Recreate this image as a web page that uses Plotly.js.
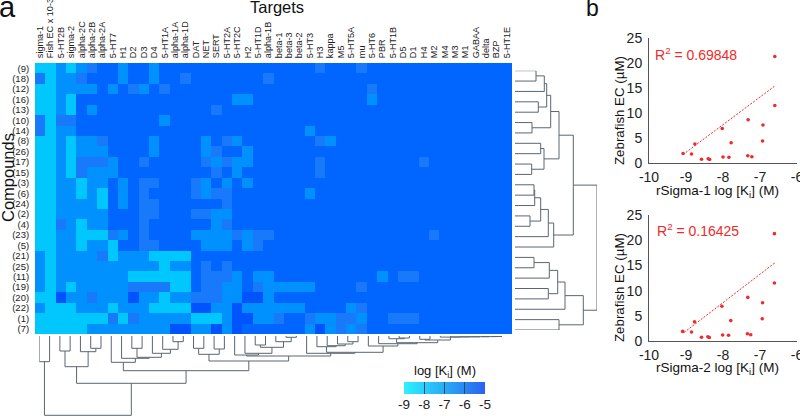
<!DOCTYPE html>
<html><head><meta charset="utf-8">
<script src="https://cdn.plot.ly/plotly-3.0.1.min.js"></script>
<style>html,body{margin:0;padding:0;background:#fff}#c{width:800px;height:416px}</style></head>
<body><div id="c"></div>
<script>
const targets = ["sigma-1","Fish EC x 10-3","5-HT2B","sigma-2","alpha-2C","alpha-2B","alpha-2A","5-HT7","H1","D2","D3","D4","5-HT1A","alpha-1A","alpha-1D","DAT","NET","SERT","5-HT2A","5-HT2C","H2","5-HT1D","alpha-1B","beta-1","beta-3","beta-2","5-HT3","H3","kappa","M5","5-HT5A","mu","5-HT6","PBR","5-HT1B","D5","D1","H4","M2","M4","M3","M1","GABAA","delta","BZP","5-HT1E"];
const compounds = ["(9)","(18)","(12)","(16)","(13)","(10)","(14)","(8)","(26)","(17)","(15)","(3)","(6)","(24)","(2)","(4)","(23)","(5)","(21)","(25)","(11)","(19)","(20)","(22)","(1)","(7)"];
const kiMatrix = [
[-9,-9,-7,-9,-7,-6,-5,-5,-7,-5, -5,-7,-5,-5,-5,-5,-5,-5,-5,-5, -5,-5,-5,-5,-5,-5,-5,-6,-5,-5, -5,-6,-5,-5,-5,-5,-5,-5,-5,-5, -5,-5,-5,-5,-5,-5],
[-6,-9,-7,-7,-6,-5,-5,-5,-7,-5, -5,-7,-5,-5,-6,-5,-5,-5,-5,-5, -5,-5,-6,-5,-5,-5,-5,-5,-5,-5, -5,-5,-5,-5,-5,-5,-5,-5,-5,-5, -5,-5,-5,-5,-5,-5],
[-9,-9,-7,-7,-7,-7,-5,-7,-5,-6, -7,-5,-6,-5,-5,-5,-5,-5,-5,-5, -5,-5,-5,-5,-5,-5,-5,-5,-5,-5, -5,-5,-6,-5,-5,-5,-5,-5,-5,-5, -5,-5,-5,-5,-5,-5],
[-9,-9,-7,-9,-5,-5,-5,-5,-5,-5, -5,-5,-5,-5,-5,-5,-5,-5,-5,-7, -7,-5,-5,-5,-5,-5,-5,-5,-5,-5, -5,-5,-7,-5,-5,-5,-5,-5,-5,-5, -5,-5,-5,-5,-5,-5],
[-9,-9,-7,-9,-5,-7,-5,-5,-5,-5, -5,-5,-5,-5,-5,-5,-5,-6,-5,-5, -5,-5,-5,-5,-5,-5,-5,-5,-5,-5, -5,-5,-5,-5,-5,-5,-5,-5,-5,-5, -5,-5,-5,-5,-5,-5],
[-6,-9,-6,-6,-5,-5,-5,-5,-5,-5, -5,-5,-7,-5,-5,-5,-5,-5,-5,-5, -5,-5,-5,-5,-5,-5,-5,-5,-5,-5, -5,-5,-5,-5,-5,-5,-5,-5,-5,-5, -5,-5,-5,-5,-5,-5],
[-6,-9,-7,-7,-5,-5,-5,-5,-5,-5, -5,-5,-5,-5,-5,-5,-5,-5,-5,-5, -5,-5,-5,-5,-5,-5,-7,-5,-5,-5, -5,-5,-5,-5,-5,-5,-5,-5,-5,-5, -5,-5,-5,-5,-5,-5],
[-9,-9,-7,-9,-7,-7,-6,-5,-5,-5, -5,-7,-5,-5,-5,-5,-7,-5,-6,-7, -5,-5,-5,-5,-5,-5,-5,-6,-7,-5, -5,-5,-5,-5,-5,-5,-5,-5,-5,-5, -5,-5,-5,-5,-5,-5],
[-9,-9,-7,-9,-7,-7,-7,-5,-5,-5, -5,-7,-5,-5,-5,-5,-7,-6,-5,-5, -7,-5,-5,-5,-5,-5,-5,-5,-5,-5, -5,-5,-5,-5,-5,-5,-5,-5,-5,-5, -5,-5,-5,-5,-5,-5],
[-9,-9,-7,-9,-6,-6,-6,-7,-5,-5, -6,-5,-5,-5,-5,-5,-6,-7,-6,-7, -7,-5,-5,-5,-5,-5,-5,-6,-5,-5, -5,-5,-5,-5,-5,-5,-5,-6,-5,-5, -5,-5,-5,-5,-5,-5],
[-9,-9,-7,-9,-6,-7,-7,-7,-5,-5, -5,-5,-5,-5,-5,-5,-5,-6,-5,-7, -5,-5,-5,-5,-5,-5,-5,-6,-5,-5, -5,-5,-5,-5,-5,-5,-5,-5,-5,-5, -5,-5,-5,-5,-5,-5],
[-9,-9,-7,-7,-9,-7,-7,-5,-7,-5, -6,-6,-5,-5,-5,-6,-7,-5,-7,-5, -7,-5,-5,-5,-5,-5,-5,-5,-5,-5, -5,-5,-5,-5,-5,-5,-5,-5,-5,-5, -5,-5,-5,-5,-5,-5],
[-9,-9,-7,-7,-9,-7,-9,-5,-7,-5, -6,-5,-5,-5,-5,-6,-7,-6,-6,-5, -5,-5,-5,-5,-5,-5,-7,-5,-5,-5, -5,-5,-5,-5,-5,-5,-5,-5,-5,-5, -5,-5,-5,-5,-5,-5],
[-9,-9,-7,-7,-7,-7,-9,-5,-7,-5, -6,-6,-5,-5,-5,-5,-5,-5,-6,-5, -5,-5,-5,-5,-5,-5,-5,-5,-5,-5, -5,-5,-5,-5,-5,-5,-5,-5,-5,-5, -5,-5,-5,-5,-5,-5],
[-9,-9,-7,-7,-7,-7,-7,-5,-5,-5, -6,-6,-5,-5,-5,-6,-6,-7,-7,-5, -5,-5,-5,-5,-5,-5,-5,-5,-5,-5, -5,-5,-5,-5,-5,-5,-5,-5,-5,-5, -5,-5,-5,-5,-5,-5],
[-9,-9,-6,-7,-9,-7,-7,-5,-5,-5, -6,-5,-5,-5,-5,-5,-5,-7,-6,-5, -5,-5,-5,-5,-5,-5,-5,-5,-5,-5, -5,-5,-5,-5,-5,-5,-5,-5,-5,-5, -5,-5,-5,-5,-5,-5],
[-9,-9,-7,-7,-9,-9,-9,-6,-7,-5, -6,-5,-5,-5,-5,-7,-7,-7,-7,-6, -7,-6,-6,-5,-5,-5,-5,-5,-5,-5, -5,-5,-5,-5,-5,-5,-5,-5,-6,-5, -5,-5,-5,-5,-5,-5],
[-9,-9,-7,-7,-9,-7,-7,-9,-5,-5, -6,-6,-5,-5,-5,-5,-7,-7,-7,-5, -7,-6,-5,-5,-5,-5,-5,-5,-5,-5, -5,-5,-5,-5,-5,-5,-5,-5,-5,-5, -5,-5,-5,-5,-5,-5],
[-7,-9,-7,-7,-7,-7,-6,-9,-7,-7, -7,-9,-9,-9,-9,-5,-5,-5,-5,-5, -5,-5,-5,-5,-5,-5,-5,-5,-5,-5, -5,-5,-5,-5,-5,-5,-5,-5,-5,-5, -5,-5,-5,-5,-5,-5],
[-7,-9,-7,-7,-7,-7,-7,-7,-7,-7, -7,-7,-9,-7,-7,-5,-6,-5,-6,-5, -5,-5,-5,-5,-5,-5,-5,-5,-5,-5, -5,-5,-5,-5,-5,-5,-5,-5,-5,-5, -5,-5,-5,-5,-5,-5],
[-7,-9,-7,-7,-7,-7,-7,-7,-7,-9, -9,-9,-9,-9,-9,-5,-6,-6,-6,-7, -5,-7,-7,-5,-5,-5,-5,-5,-5,-5, -5,-5,-5,-7,-5,-6,-6,-5,-5,-5, -5,-5,-5,-5,-5,-5],
[-7,-9,-7,-9,-7,-7,-7,-7,-7,-6, -6,-6,-6,-9,-9,-5,-6,-6,-7,-7, -5,-6,-7,-7,-7,-7,-7,-5,-5,-5, -5,-6,-5,-5,-5,-5,-5,-5,-5,-5, -5,-5,-5,-5,-5,-5],
[-9,-9,-4,-7,-7,-6,-7,-7,-7,-4, -7,-7,-9,-7,-7,-6,-6,-6,-7,-7, -4,-4,-7,-5,-5,-5,-5,-5,-5,-5, -5,-5,-5,-5,-5,-5,-5,-5,-5,-5, -5,-5,-5,-5,-5,-5],
[-7,-9,-9,-9,-7,-7,-7,-9,-7,-7, -7,-9,-9,-9,-9,-4,-4,-7,-7,-4, -7,-7,-7,-7,-7,-7,-5,-5,-5,-5, -7,-6,-5,-5,-5,-5,-5,-5,-5,-5, -5,-5,-5,-5,-5,-5],
[-9,-9,-9,-9,-9,-9,-9,-6,-9,-6, -7,-7,-7,-7,-7,-9,-9,-9,-7,-4, -4,-7,-7,-6,-5,-5,-6,-7,-7,-6, -6,-7,-5,-5,-6,-6,-6,-5,-5,-5, -5,-5,-5,-5,-5,-5],
[-9,-9,-9,-9,-9,-7,-7,-7,-7,-7, -7,-7,-7,-4,-4,-7,-7,-4,-7,-4, -5,-5,-5,-5,-5,-5,-7,-4,-7,-6, -7,-6,-5,-5,-5,-5,-5,-5,-5,-5, -5,-5,-5,-5,-5,-5]
];
// dendrogram merges: [child, child, height]; child < 100 is a leaf, 100+k is merge k
const rowMerges = [
[0,1,21],[100,2,29.3],[3,4,23.3],[101,102,31.7],[5,6,17],[103,104,35.7],
[7,8,25.7],[9,10,16.7],[106,107,29],[105,108,44],
[11,12,19],[110,13,19.7],[14,15,15],[111,112,25.7],[113,16,33.3],[114,17,38.7],[109,115,58.3],
[18,19,19],[117,20,34.3],[21,22,33.3],[118,119,42.7],[120,23,50],[24,25,44],[121,122,68.3],[116,123,82]
];
const colMerges = [
[0,1,25.7],[2,3,15],[5,6,12.3],[4,102,15.7],[101,103,30.7],
[9,10,12.3],[13,14,5.7],[12,106,13.3],[11,107,17.3],[105,108,21.3],[8,109,22.3],[7,110,26.3],
[15,16,12.3],[17,18,13],[112,113,18.3],
[21,22,9],[24,25,1.3],[23,116,5.7],[115,117,11.3],[20,118,17.3],[19,119,19],
[44,45,0.5],[43,121,0.6],[42,122,0.7],[41,123,0.8],[40,124,0.9],[39,125,1.1],[38,37,3.3],[127,126,4],
[35,36,2],[34,129,2.7],[130,128,6.7],[33,131,7.7],[32,132,10],
[30,31,5.7],[29,134,8],[28,135,9.7],[27,136,10.7],[137,133,16.3],[26,138,17.3],[120,139,20],[114,140,25],
[111,141,34.7],[104,142,47.3],[100,143,79.3]
];
const logTicks = [-9,-8,-7,-6,-5];
const logTickText = ["-9","-8","-7","-6","-5"];
const scatterXTicks = [-10,-9,-8,-7,-6];
const scatterXText = ["-10","-9","-8","-7","-6"];
const scatterYTicks = [0,5,10,15,20,25];
const sigma1X = [-6.6,-6.6,-7.32,-6.92,-6.93,-8.02,-7.78,-8.76,-9.08,-8.85,-8.58,-8.4,-8.36,-8.0,-7.84,-7.33,-7.22];
const sigma2X = [-6.61,-6.61,-7.33,-6.93,-6.94,-8.03,-7.79,-8.77,-9.09,-8.85,-8.58,-8.41,-8.37,-8.01,-7.85,-7.34,-7.25];
const ecY = [21.3,11.5,8.65,7.6,4.4,6.9,4.05,3.8,1.9,1.8,0.75,0.85,0.7,1.2,1.15,1.45,1.25];
const fit1X = [-9.08,-6.6], fit1Y = [1.7,15.4];
const fit2X = [-9.05,-6.6], fit2Y = [1.7,15.5];

const W = 800, H = 416;
const dx = (a,b)=>[a/W,b/W], dy = (top,bot)=>[1-bot/H,1-top/H];

function dendro(merges, leafPos, horizontalLeaves){
  const nodes = []; const xs = [], ys = [];
  const get = c => c<100 ? {p:leafPos(c),h:0} : nodes[c-100];
  merges.forEach(m=>{
    const a=get(m[0]), b=get(m[1]), p=(a.p+b.p)/2;
    nodes.push({p,h:m[2]});
    const pos=[a.p,a.p,b.p,b.p,null], hh=[a.h,m[2],m[2],b.h,null];
    if(horizontalLeaves){xs.push(...hh);ys.push(...pos);} else {xs.push(...pos);ys.push(...hh);}
  });
  return {x:xs,y:ys};
}
const identity = i=>i;
const colD = dendro(colMerges, identity, false);
const rowD = dendro(rowMerges, identity, true);
const dendLine = {color:'#5b6670',width:1};

const red = '#f02a2a';
const traces = [
 {type:'heatmap',z:kiMatrix,x:targets.map((_,i)=>i),y:compounds.map((_,i)=>i),xaxis:'x',yaxis:'y',zmin:-9,zmax:-4,showscale:false,
  colorscale:[[0,'rgb(0,200,255)'],[0.2,'rgb(0,172,255)'],[0.4,'rgb(0,145,255)'],[0.6,'rgb(24,122,250)'],[0.8,'rgb(0,102,255)'],[1,'rgb(0,84,255)']]},
 {type:'scatter',mode:'lines',x:colD.x,y:colD.y,xaxis:'x2',yaxis:'y2',line:dendLine,hoverinfo:'skip'},
 {type:'scatter',mode:'lines',x:rowD.x,y:rowD.y,xaxis:'x3',yaxis:'y3',line:dendLine,hoverinfo:'skip'},
 {type:'heatmap',z:[logTicks],x:logTicks,y:[0],xaxis:'x4',yaxis:'y4',zmin:-9,zmax:-5,showscale:false,zsmooth:'best',
  colorscale:[[0,'rgb(46,240,255)'],[0.5,'rgb(40,170,245)'],[1,'rgb(42,96,240)']]},
 {type:'scatter',mode:'lines',x:fit1X,y:fit1Y,xaxis:'x5',yaxis:'y5',line:{color:red,width:1,dash:'2px,1.5px'}},
 {type:'scatter',mode:'markers',x:sigma1X,y:ecY,xaxis:'x5',yaxis:'y5',marker:{color:red,size:3.6}},
 {type:'scatter',mode:'lines',x:fit2X,y:fit2Y,xaxis:'x6',yaxis:'y6',line:{color:red,width:1,dash:'2px,1.5px'}},
 {type:'scatter',mode:'markers',x:sigma2X,y:ecY,xaxis:'x6',yaxis:'y6',marker:{color:red,size:3.6}}
];
const hidden = {visible:false,fixedrange:true};
const clear = 'rgba(0,0,0,0)';
const tfTop = {family:'"Liberation Sans",Arial,sans-serif',size:9.1,color:'#222'};
const tfLeft = {family:'"Liberation Sans",Arial,sans-serif',size:9.5,color:'#222'};
const sf = {family:'"Liberation Sans",Arial,sans-serif',size:14,color:'#222'};
const scatterAxes = (xd,yd,xa,ya)=>({
  x:{domain:xd,anchor:ya,range:[-10,-6],tickmode:'array',tickvals:scatterXTicks,ticktext:scatterXText,ticks:'outside',ticklen:1,tickcolor:clear,ticklabeloverflow:'allow',showgrid:false,zeroline:false,showline:true,linecolor:'#555',linewidth:1,tickfont:sf},
  y:{domain:yd,anchor:xa,range:[0,25],tickmode:'array',tickvals:scatterYTicks,ticks:'outside',ticklen:3,tickcolor:clear,showgrid:false,zeroline:false,showline:true,linecolor:'#555',linewidth:1,tickfont:sf}
});
const s1 = scatterAxes(dx(649,797),dy(38,163),'x5','y5');
const s2 = scatterAxes(dx(649,797),dy(215,341),'x6','y6');
const ann = (text,x,y,size,opt={})=>Object.assign({text,x:x/W,y:1-y/H,xref:'paper',yref:'paper',showarrow:false,xanchor:'center',yanchor:'middle',
   font:{family:'"Liberation Sans",Arial,sans-serif',size,color:'#111'}},opt);
const layout = {
 width:W,height:H,margin:{l:0,r:0,t:0,b:0},paper_bgcolor:'#fff',plot_bgcolor:'#fff',showlegend:false,
 xaxis:{domain:dx(35,512),anchor:'y',side:'top',range:[-0.5,45.5],tickmode:'array',tickvals:targets.map((_,i)=>i),ticktext:targets,tickangle:-90,ticks:'outside',ticklen:2,tickcolor:clear,ticklabeloverflow:'allow',tickfont:tfTop,showgrid:false,zeroline:false,showline:false,fixedrange:true},
 yaxis:{domain:dy(63,334),anchor:'x',range:[25.5,-0.5],tickmode:'array',tickvals:compounds.map((_,i)=>i),ticktext:compounds,ticks:'outside',ticklen:3,tickcolor:clear,tickfont:tfLeft,showgrid:false,zeroline:false,showline:false,fixedrange:true},
 xaxis2:Object.assign({domain:dx(39.3,502),anchor:'y2',range:[0,45]},hidden),
 yaxis2:Object.assign({domain:dy(336,416),anchor:'x2',range:[80,0]},hidden),
 xaxis3:Object.assign({domain:dx(515,597),anchor:'y3',range:[0,82]},hidden),
 yaxis3:Object.assign({domain:dy(70.7,330),anchor:'x3',range:[25,0]},hidden),
 xaxis4:{domain:dx(404,485),anchor:'y4',range:[-9,-5],tickmode:'array',tickvals:logTicks,ticktext:logTickText,ticks:'inside',ticklen:12,tickcolor:'#2b4a66',tickwidth:1,tickfont:{family:'"Liberation Sans",Arial,sans-serif',size:13.5,color:'#222'},showgrid:false,zeroline:false,showline:false,fixedrange:true},
 yaxis4:Object.assign({domain:dy(382,394),anchor:'x4',range:[-0.5,0.5]},hidden),
 xaxis5:s1.x,yaxis5:s1.y,xaxis6:s2.x,yaxis6:s2.y,
 annotations:[
  ann('a',7,7,29),
  ann('b',592,8,23),
  ann('Targets',277,7,16.5),
  ann('Compounds',8,178,16.5,{textangle:-90}),
  ann('log [K<sub>i</sub>] (M)',445,371,13),
  ann('Zebrafish EC (µM)',619,111,13.3,{textangle:-90}),
  ann('Zebrafish EC (µM)',619,288,13.3,{textangle:-90}),
  ann('rSigma-1 log [K<sub>i</sub>] (M)',717,191,13.5),
  ann('rSigma-2 log [K<sub>i</sub>] (M)',717,368,13.5),
  ann('R<sup>2</sup> = 0.69848',696,54,14,{font:{family:'"Liberation Sans",Arial,sans-serif',size:14,color:red}}),
  ann('R<sup>2</sup> = 0.16425',698,230,14,{font:{family:'"Liberation Sans",Arial,sans-serif',size:14,color:red}})
 ]
};
Plotly.newPlot('c',traces,layout,{displayModeBar:false,staticPlot:true});
</script></body></html>
